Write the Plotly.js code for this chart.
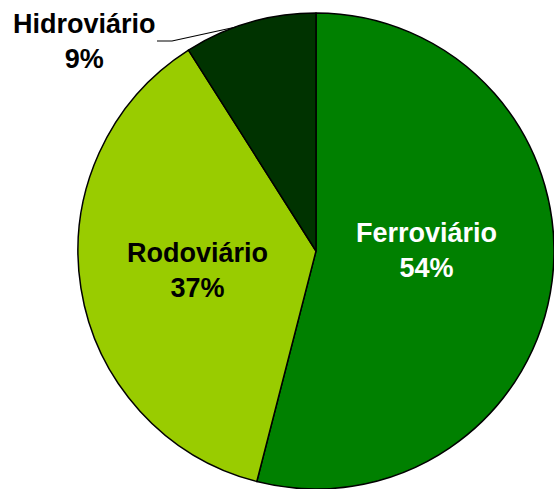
<!DOCTYPE html>
<html><head><meta charset="utf-8">
<script src="https://cdn.plot.ly/plotly-3.0.1.min.js"></script>
<style>html,body{margin:0;padding:0;background:#fff;}#chart{width:554px;height:489px;}</style>
</head><body><div id="chart"></div>
<script>
const labels = ["Ferroviário", "Rodoviário", "Hidroviário"];
const values = [54, 37, 9];
const colors = ["#008000", "#99CC00", "#003300"];
const textColors = ["#ffffff", "#000000", "#000000"];

const W = 554, H = 489;
const px = x => x / W, py = y => 1 - y / H;
// label centres (pixel) for each slice
const labelPos = [[426, 251], [197, 270], [84, 41]];

const annotations = labels.map((l, i) => ({
  xref: 'paper', yref: 'paper',
  x: px(labelPos[i][0]), y: py(labelPos[i][1]),
  xanchor: 'center', yanchor: 'middle',
  text: '<b>' + l + '<br>' + values[i] + '%</b>',
  showarrow: false,
  font: {family: 'Liberation Sans, Arial, sans-serif', size: 27, color: textColors[i]}
}));

const data = [{
  type: 'pie',
  labels: labels, values: values,
  sort: false, direction: 'clockwise', rotation: 0,
  marker: {colors: colors, line: {color: '#000000', width: 1.5}},
  textinfo: 'none', hoverinfo: 'none',
  domain: {x: [78 / W, 554 / W], y: [1 - 489 / H, 1 - 13 / H]}
}];

const layout = {
  width: W, height: H,
  margin: {l: 0, r: 0, t: 0, b: 0},
  paper_bgcolor: '#ffffff',
  showlegend: false,
  annotations: annotations,
  shapes: [{
    type: 'path', xref: 'paper', yref: 'paper',
    path: `M ${px(157)} ${py(41)} L ${px(172)} ${py(41)} L ${px(236)} ${py(27)}`,
    line: {color: '#000000', width: 1.2}
  }]
};
Plotly.newPlot('chart', data, layout, {staticPlot: true});
</script></body></html>
